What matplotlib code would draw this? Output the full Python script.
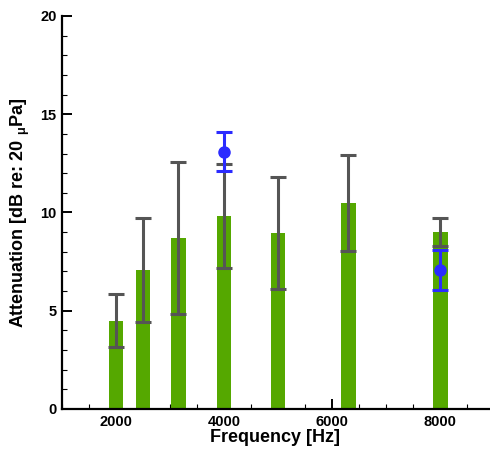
import matplotlib
matplotlib.use("Agg")
import matplotlib.pyplot as plt
from matplotlib.ticker import MultipleLocator

freqs = [2000, 2500, 3150, 4000, 5000, 6300, 8000]
atten = [4.48, 7.07, 8.70, 9.82, 8.97, 10.48, 9.00]
atten_err = [1.35, 2.63, 3.88, 2.63, 2.84, 2.45, 0.70]

pt_freqs = [4000, 8000]
pt_vals = [13.09, 7.07]
pt_err = [1.0, 1.0]

xticks = [2000, 4000, 6000, 8000]
yticks = [0, 5, 10, 15, 20]

plt.rcParams['font.family'] = ['Liberation Sans', 'DejaVu Sans']
plt.rcParams['font.weight'] = 'bold'
plt.rcParams['mathtext.fontset'] = 'custom'
plt.rcParams['mathtext.rm'] = 'Liberation Sans'
plt.rcParams['mathtext.default'] = 'regular'

fig = plt.figure(figsize=(4.9, 4.51), dpi=100)
ax = fig.add_axes([62/490, 1-409/451, 427/490, (409-16)/451])

ax.bar(freqs, atten, width=270, color='#55a800', edgecolor='none', zorder=2)
ax.errorbar(freqs, atten, yerr=atten_err, fmt='none', ecolor='#555555',
            elinewidth=2.2, capsize=5.5, capthick=2.2, zorder=3)
ax.errorbar(pt_freqs, pt_vals, yerr=pt_err, fmt='o', color='#2b2bff',
            markersize=8, elinewidth=2.2, capsize=5.5, capthick=2.2, zorder=4)

ax.set_xlim(1000, 8900)
ax.set_ylim(0, 20)
ax.set_xticks(xticks)
ax.set_yticks(yticks)
ax.xaxis.set_minor_locator(MultipleLocator(500))
ax.yaxis.set_minor_locator(MultipleLocator(1))

for s in ['top', 'right']:
    ax.spines[s].set_visible(False)
for s in ['left', 'bottom']:
    ax.spines[s].set_linewidth(1.6)
    ax.spines[s].set_clip_on(False)

ax.tick_params(which='major', direction='in', length=7, width=1.4, labelsize=10.5, pad=4)
ax.tick_params(which='minor', direction='in', length=3.5, width=0.8)
for lab in ax.get_xticklabels() + ax.get_yticklabels():
    lab.set_fontweight('bold')

ax.set_xlabel('Frequency [Hz]', fontsize=13, fontweight='bold', labelpad=0)
ax.set_ylabel('Attenuation [dB re: 20 $_{μ}$Pa]', fontsize=13, fontweight='bold')
ax.yaxis.set_label_coords(-0.07, 0.5)

fig.savefig('out.png', dpi=100)
